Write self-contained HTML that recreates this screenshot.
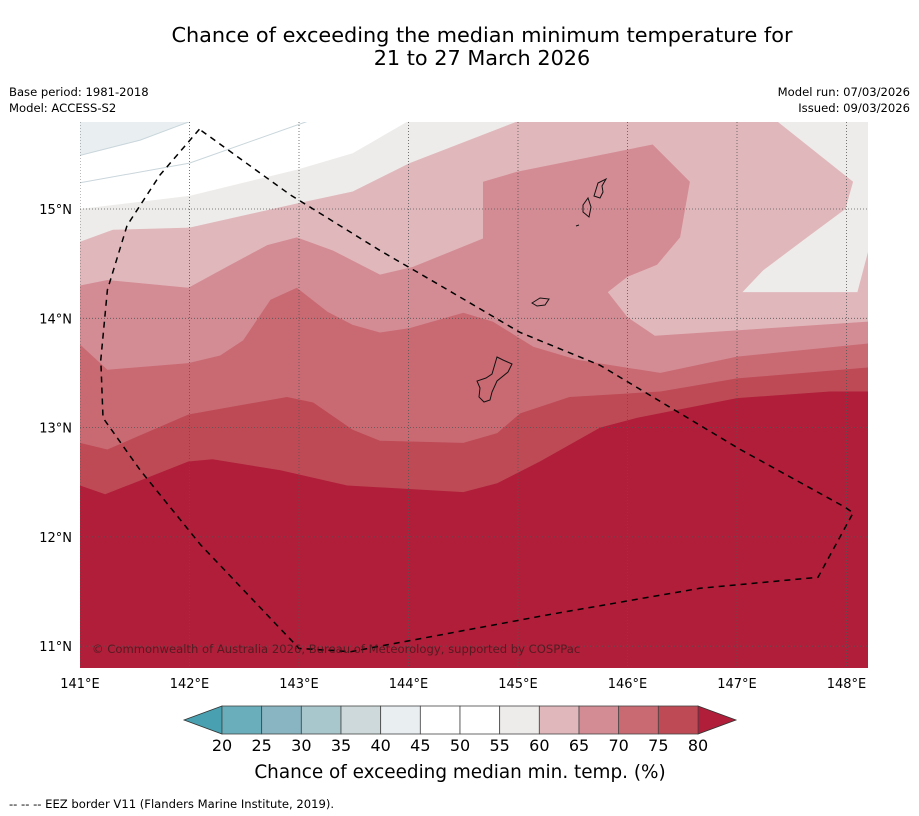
<!DOCTYPE html>
<html><head><meta charset="utf-8"><style>
body{margin:0;background:#fff;font-family:"DejaVu Sans","Liberation Sans",sans-serif;}
svg{display:block;font-family:"DejaVu Sans","Liberation Sans",sans-serif;}
</style></head><body>
<svg id="chart" width="919" height="816" viewBox="0 0 919 816" xmlns="http://www.w3.org/2000/svg">
<text x="482" y="42" text-anchor="middle" font-size="20.8" fill="#000">Chance of exceeding the median minimum temperature for</text>
<text x="482" y="65" text-anchor="middle" font-size="20.8" fill="#000">21 to 27 March 2026</text>
<text x="9" y="96" font-size="11.6">Base period: 1981-2018</text>
<text x="9" y="112" font-size="11.6">Model: ACCESS-S2</text>
<text x="910" y="96" font-size="11.6" text-anchor="end">Model run: 07/03/2026</text>
<text x="910" y="112" font-size="11.6" text-anchor="end">Issued: 09/03/2026</text>
<defs><clipPath id="mapclip"><rect x="80" y="122" width="788" height="546"/></clipPath></defs>
<g id="map" clip-path="url(#mapclip)">
<rect x="80" y="122" width="788" height="546" fill="#e9eff1"/>
<g id="bands"></g>
<g id="grid"></g>
<g fill="none" stroke="#111" stroke-width="1">
<path d="M497,357 L503,360 L512,364 L508,372 L497,381 L492,392 L490,400 L484,402 L479,397 L480,388 L477,381 L486,378 L492,374 Z"/>
<path d="M532,303 L540,298 L549,299 L545,305 L537,306 Z"/>
<path d="M598,183 L606,179 L602,186 L603,192 L600,198 L594,196 Z"/>
<path d="M583,205 L588,198 L591,207 L589,217 L583,212 Z"/>
<path d="M576,226 L579,225"/>
</g>
<g id="eez"></g>
<text x="92" y="653" font-size="11.6" fill="#3a1a1a" fill-opacity="0.75">© Commonwealth of Australia 2026, Bureau of Meteorology, supported by COSPPac</text>
</g>
<g id="axes"></g>
<g id="cbar"></g>
<text x="460" y="778" text-anchor="middle" font-size="18.4">Chance of exceeding median min. temp. (%)</text>
<text x="9" y="808" font-size="11.6">--  --  -- EEZ border V11 (Flanders Marine Institute, 2019).</text>
</svg>
<script>
const lonTicks=[141,142,143,144,145,146,147,148];
const latTicks=[11,12,13,14,15];
const levels=[45,50,55,60,65,70,75,80];
const levelColors=["#ffffff","#ffffff","#eeecea","#e0b8bc","#d48c94","#c96a73","#be4a55","#b01e3a"];
const b45=[[141,15.49],[141.55,15.63],[142,15.80],[148.2,15.8]];
const b50=[[141,15.24],[142,15.42],[143.07,15.80],[148.2,15.8]];
const b55=[[141,15.0],[142,15.12],[142.98,15.36],[143.49,15.51],[143.99,15.80],[148.2,15.8]];
const b60=[[141,14.70],[141.30,14.81],[142,14.83],[142.98,15.05],[143.49,15.16],[144.01,15.42],[144.99,15.80],[147.37,15.80],[148.06,15.25],[147.99,15.00],[147.64,14.74],[147.24,14.44],[147.05,14.24],[148.10,14.24],[148.2,14.62]];
const b65=[[141,14.30],[141.25,14.35],[141.99,14.28],[142.34,14.47],[142.71,14.67],[142.98,14.74],[143.31,14.62],[143.74,14.40],[144.04,14.47],[144.68,14.73],[144.68,15.25],[144.99,15.34],[146.23,15.59],[146.57,15.25],[146.48,14.74],[146.27,14.49],[146.00,14.38],[145.82,14.24],[146.00,14.01],[146.25,13.84],[148.2,13.97]];
const b70=[[141,13.76],[141.25,13.53],[141.99,13.59],[142.28,13.66],[142.49,13.80],[142.74,14.17],[142.98,14.28],[143.26,14.06],[143.49,13.94],[143.74,13.87],[144.01,13.91],[144.50,14.05],[144.77,13.97],[145.14,13.74],[145.54,13.62],[146.30,13.50],[147.00,13.65],[148.2,13.77]];
const b75=[[141,12.86],[141.25,12.80],[141.99,13.12],[142.89,13.28],[143.13,13.23],[143.49,12.98],[143.74,12.88],[144.50,12.86],[144.81,12.95],[145.02,13.13],[145.47,13.28],[146.30,13.33],[147.00,13.45],[148.2,13.55]];
const b80=[[141,12.47],[141.23,12.39],[141.99,12.69],[142.21,12.71],[142.83,12.61],[143.44,12.47],[144.50,12.41],[144.81,12.49],[145.20,12.69],[145.75,13.00],[146.09,13.09],[147.00,13.27],[147.85,13.33],[148.2,13.33]];
const eezLon=[142.09,141.73,141.43,141.25,141.19,141.21,141.55,142.10,143.00,143.47,144.38,145.29,146.66,147.74,148.06,147.99,147.03,145.75,145.02,144.29,143.74,142.92,142.09];
const eezLat=[15.73,15.31,14.85,14.26,13.62,13.09,12.61,11.93,10.98,10.95,11.12,11.29,11.53,11.63,12.22,12.27,12.80,13.57,13.87,14.30,14.62,15.13,15.73];
const cbLevels=[20,25,30,35,40,45,50,55,60,65,70,75,80];
const cbColors=["#6aaebb","#88b5c1","#a8c7cc","#cdd9da","#e9eff1","#ffffff","#ffffff","#eeecea","#e0b8bc","#d48c94","#c96a73","#be4a55"];
const cbLow="#48a0b0", cbHigh="#b01e3a";

const NS="http://www.w3.org/2000/svg";
const X=lon=>80+(lon-141)*109.5;
const Y=lat=>209-(lat-15)*109.3;
function mk(tag,attrs,parent){const e=document.createElementNS(NS,tag);for(const k in attrs)e.setAttribute(k,attrs[k]);parent.appendChild(e);return e;}
const bounds=[b45,b50,b55,b60,b65,b70,b75,b80];
const bandsG=document.getElementById('bands');
bounds.forEach((b,i)=>{
  const pts=b.concat([[148.3,10.7],[141,10.7]]).map(p=>X(p[0]).toFixed(1)+","+Y(p[1]).toFixed(1)).join(" ");
  const el=mk('polygon',{points:pts,fill:levelColors[i]},bandsG);
  
  
  if(levels[i]<=50){
    const ln=mk('polyline',{points:b.slice(0,-1).map(p=>X(p[0]).toFixed(1)+","+Y(p[1]).toFixed(1)).join(" "),fill:"none",stroke:"#c9d6db","stroke-width":1},bandsG);
    
    
  }
});
const grid=document.getElementById('grid');
lonTicks.forEach(l=>{
  const g=mk('line',{x1:X(l),x2:X(l),y1:122,y2:668,stroke:"#555","stroke-width":0.8,"stroke-dasharray":"1,2"},grid);
  
  
});
latTicks.forEach(l=>{
  const g=mk('line',{x1:80,x2:868,y1:Y(l),y2:Y(l),stroke:"#555","stroke-width":0.8,"stroke-dasharray":"1,2"},grid);
  
  
});
const eez=mk('polyline',{points:eezLon.map((l,i)=>X(l).toFixed(1)+","+Y(eezLat[i]).toFixed(1)).join(" "),fill:"none",stroke:"#000","stroke-width":1.5,"stroke-dasharray":"6,5"},document.getElementById('eez'));


const axes=document.getElementById('axes');
lonTicks.forEach(l=>{
  const t=mk('text',{x:X(l),y:688,"text-anchor":"middle","font-size":13},axes);
  t.textContent=l+"°E";
  
  
});
latTicks.forEach(l=>{
  const t=mk('text',{x:72,y:Y(l)+5,"text-anchor":"end","font-size":13},axes);
  t.textContent=l+"°N";
  
  
});
const cb=document.getElementById('cbar');
const cx0=222,cx1=698,cy0=706,cy1=734,cw=(cx1-cx0)/cbColors.length;
const lt=mk('polygon',{points:`${cx0},${cy0} 184,${(cy0+cy1)/2} ${cx0},${cy1}`,fill:cbLow,stroke:"#333","stroke-width":0.8},cb);


const rt=mk('polygon',{points:`${cx1},${cy0} 736,${(cy0+cy1)/2} ${cx1},${cy1}`,fill:cbHigh,stroke:"#333","stroke-width":0.8},cb);


cbColors.forEach((c,i)=>{
  const r=mk('rect',{x:cx0+i*cw,y:cy0,width:cw,height:cy1-cy0,fill:c,stroke:"#444","stroke-width":0.8},cb);
  
  
});
cbLevels.forEach((v,i)=>{
  const t=mk('text',{x:cx0+i*cw,y:751,"text-anchor":"middle","font-size":16},cb);
  t.textContent=v;
  
  
});
</script>
</body></html>
